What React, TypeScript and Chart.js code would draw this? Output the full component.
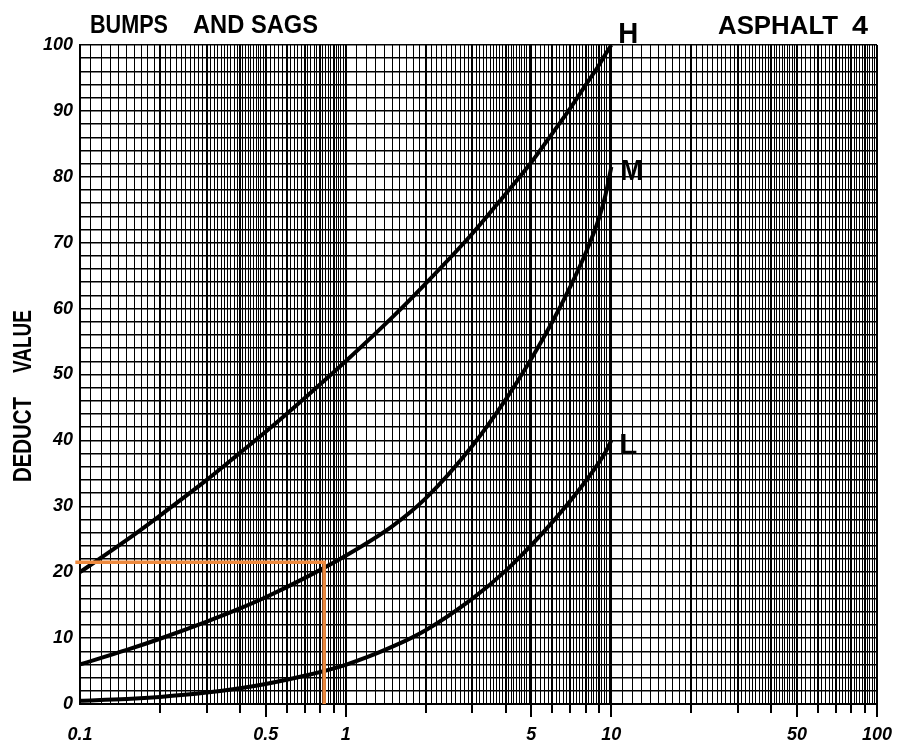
import React, { useEffect, useRef } from 'react';
import { Chart, registerables } from 'chart.js';

Chart.register(...registerables);

// Distance (x, log scale) at which the curves are sampled
const curveX = [0.1, 0.15, 0.2, 0.3, 0.4, 0.5, 0.7, 1, 1.5, 2, 3, 4, 5, 6, 7, 8, 9, 9.5, 10];
// Deduct values
const highY = [20, 24.9, 28.6, 34.0, 38.1, 41.3, 46.4, 52, 58.7, 63.8, 71.4, 77.4, 82.2, 86.6, 90.4, 93.9, 97.0, 98.6, 100];
const mediumY = [6, 8.2, 9.9, 12.5, 14.5, 16.2, 19.1, 22.5, 27.0, 31.2, 39.2, 46.2, 52.4, 58.0, 63.3, 68.4, 73.8, 77.2, 81.5];
const lowY = [0.5, 0.76, 1.07, 1.73, 2.39, 3.04, 4.28, 5.95, 8.7, 11.2, 16.0, 20.2, 24.1, 27.6, 30.8, 33.8, 36.7, 38.2, 40];

// Orange read-out line
const readoutX = [0.096, 0.83, 0.83];
const readoutY = [21.5, 21.5, 0];

// Axis labels
const xLabelValues = [0.1, 0.5, 1, 5, 10, 50, 100];
const yLabelValues = [0, 10, 20, 30, 40, 50, 60, 70, 80, 90, 100];
const decades = [0.1, 1, 10];

// Log-paper ruling: 1-2 and 2-5 in tenths, 5-10 in fifths, per decade
const xGridValues: number[] = [];
for (const d of decades) {
  for (let i = 10; i < 50; i++) xGridValues.push((i / 10) * d);
  for (let i = 50; i < 100; i += 2) xGridValues.push((i / 10) * d);
}
xGridValues.push(100);
const yGridValues: number[] = [];
for (let v = 0; v <= 100; v += 2) yGridValues.push(v);

const xTickMarks: number[] = [];
for (const d of decades) for (let k = 1; k <= 9; k++) if (!(d === 0.1 && k === 1)) xTickMarks.push(k * d);
xTickMarks.push(100);

const near = (a: number, b: number) => Math.abs(a - b) < 1e-6 * Math.max(1, Math.abs(b));
const mantissa = (v: number) => v / Math.pow(10, Math.floor(Math.log10(v) + 1e-9));
const isWhole = (v: number) => {
  const m = mantissa(v);
  return Math.abs(m - Math.round(m)) < 1e-6;
};

const FONT = '"Liberation Sans", Arial, sans-serif';

function fitText(ctx: CanvasRenderingContext2D, text: string, x: number, y: number, width: number, font: string) {
  ctx.font = font;
  const w = ctx.measureText(text).width;
  ctx.save();
  ctx.translate(x, y);
  ctx.scale(width / w, 1);
  ctx.textBaseline = 'alphabetic';
  ctx.textAlign = 'left';
  ctx.fillText(text, 0, 0);
  ctx.restore();
}

const paperPlugin = {
  id: 'paperText',
  afterDraw(chart: any) {
    const ctx: CanvasRenderingContext2D = chart.ctx;
    const xs = chart.scales.x;
    const ys = chart.scales.y;
    const bottom = chart.chartArea.bottom;
    ctx.save();
    ctx.strokeStyle = '#000';
    ctx.fillStyle = '#000';
    ctx.lineWidth = 2;
    for (const v of xTickMarks) {
      const px = Math.round(xs.getPixelForValue(v));
      const m = Math.round(mantissa(v));
      const len = m === 1 || m === 5 ? 13 : 9;
      ctx.beginPath();
      ctx.moveTo(px, bottom);
      ctx.lineTo(px, bottom + len);
      ctx.stroke();
    }
    const big = `bold 25px ${FONT}`;
    fitText(ctx, 'BUMPS', 90, 33, 78, big);
    fitText(ctx, 'AND SAGS', 193, 33, 125, big);
    fitText(ctx, 'ASPHALT', 718, 34, 120, big);
    fitText(ctx, '4', 852, 34, 16, big);

    const lab = `bold 30px ${FONT}`;
    const x10 = xs.getPixelForValue(10);
    fitText(ctx, 'H', x10 + 7, ys.getPixelForValue(highY[highY.length - 1]) - 2, 20, lab);
    fitText(ctx, 'M', x10 + 9, ys.getPixelForValue(mediumY[mediumY.length - 1]) + 13, 23, lab);
    fitText(ctx, 'L', x10 + 8, ys.getPixelForValue(lowY[lowY.length - 1]) + 14, 18, lab);

    ctx.save();
    ctx.translate(31, 482);
    ctx.rotate(-Math.PI / 2);
    fitText(ctx, 'DEDUCT', 0, 0, 85, big);
    fitText(ctx, 'VALUE', 109, 0, 63, big);
    ctx.restore();
    ctx.restore();
  },
};

const tickFont = { family: FONT, size: 18, style: 'italic' as const, weight: 'bold' as const };

export default function App() {
  const ref = useRef<HTMLCanvasElement>(null);
  useEffect(() => {
    document.body.style.margin = '0';
    const canvas = ref.current;
    if (!canvas) return;
    const curve = (label: string, ys: number[]) => ({
      label,
      data: curveX.map((x, i) => ({ x, y: ys[i] })),
      borderColor: '#000',
      borderWidth: 4,
      pointRadius: 0,
      cubicInterpolationMode: 'monotone',
      order: 1,
    });
    const chart = new Chart(canvas, {
      type: 'line',
      data: {
        datasets: [
          {
            label: 'Read-out',
            data: readoutX.map((x, i) => ({ x, y: readoutY[i] })),
            borderColor: '#EE8A3E',
            borderWidth: 3.5,
            pointRadius: 0,
            tension: 0,
            borderJoinStyle: 'miter',
            clip: false as any,
            order: 0,
          },
          curve('H', highY),
          curve('M', mediumY),
          curve('L', lowY),
        ] as any,
      },
      options: {
        animation: false,
        responsive: false,
        events: [],
        layout: { padding: { top: 45, right: 20, bottom: 0, left: 0 } },
        plugins: { legend: { display: false }, tooltip: { enabled: false } },
        scales: {
          x: {
            type: 'logarithmic',
            min: 0.1,
            max: 100,
            afterBuildTicks: (s: any) => {
              s.ticks = xGridValues.map((v) => ({ value: v }));
            },
            afterFit: (s: any) => {
              s.height = 45;
              s.paddingLeft = 0;
              s.paddingRight = 0;
            },
            grid: {
              color: '#000',
              lineWidth: (c: any) => (c.tick && isWhole(c.tick.value) ? 2 : 1),
              drawTicks: false,
            },
            border: { display: true, color: '#000', width: 2 },
            ticks: {
              autoSkip: false,
              maxRotation: 0,
              minRotation: 0,
              padding: 20,
              color: '#000',
              font: tickFont,
              callback: (v: any) => {
                const n = Number(v);
                const hit = xLabelValues.find((l) => near(n, l));
                return hit === undefined ? '' : String(hit);
              },
            },
          },
          y: {
            type: 'linear',
            min: 0,
            max: 100,
            afterBuildTicks: (s: any) => {
              s.ticks = yGridValues.map((v) => ({ value: v }));
            },
            afterFit: (s: any) => {
              s.width = 80;
              s.paddingTop = 0;
              s.paddingBottom = 0;
            },
            grid: {
              color: '#000',
              lineWidth: 1.5,
              drawTicks: false,
            },
            border: { display: true, color: '#000', width: 2 },
            ticks: {
              autoSkip: false,
              padding: 7,
              color: '#000',
              font: tickFont,
              callback: (v: any) => {
                const n = Number(v);
                const hit = yLabelValues.find((l) => near(n, l));
                return hit === undefined ? '' : String(hit);
              },
            },
          },
        },
      } as any,
      plugins: [paperPlugin],
    });
    return () => chart.destroy();
  }, []);
  return (
    <div style={{ width: 897, height: 749 }}>
      <canvas ref={ref} width={897} height={749} style={{ display: 'block' }} />
    </div>
  );
}
